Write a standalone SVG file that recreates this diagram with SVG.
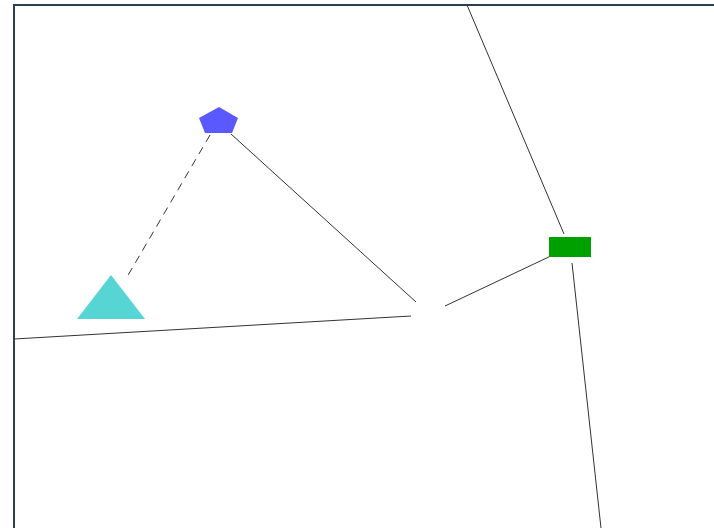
<svg xmlns="http://www.w3.org/2000/svg" width="714" height="528" viewBox="0 0 714 528">
<style>
.edge{stroke:#333;stroke-width:1;fill:none}
.dash{stroke-dasharray:8,6}
</style>
<rect x="0" y="0" width="714" height="528" fill="#fff"/>
<rect x="14" y="5" width="760" height="600" fill="none" stroke="#2c3e50" stroke-width="2"/>
<g id="connectors">
<line class="edge" x1="467" y1="5" x2="564" y2="234"/>
<line class="edge" x1="231" y1="134" x2="416" y2="302"/>
<line class="edge" x1="445" y1="306" x2="553" y2="255"/>
<line class="edge" x1="572" y1="263" x2="601" y2="528"/>
<line class="edge" x1="14" y1="339" x2="411" y2="316"/>
<line class="edge dash" x1="210" y1="135" x2="127" y2="277"/>
</g>
<g id="pentagon"><polygon points="219,107 238,118 232,133 205,133 199,118" fill="#5959ff"/></g>
<g id="triangle"><polygon points="111,275 145,319 77,319" fill="#57d4d4"/></g>
<g id="rect"><rect x="549" y="237" width="42" height="20" fill="#00a000"/></g>
</svg>
